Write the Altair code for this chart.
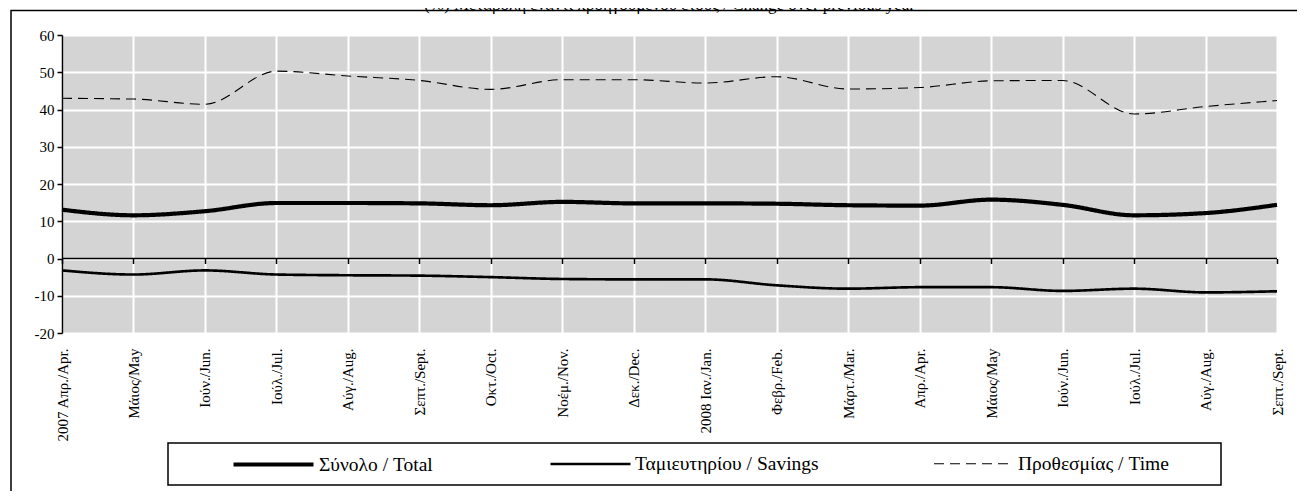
import json
import altair as alt
import pandas as pd

# ---- data ----
months = ["2007 Απρ./Apr.", "Μάιος/May", "Ιούν./Jun.", "Ιούλ./Jul.", "Αύγ./Aug.",
          "Σεπτ./Sept.", "Οκτ./Oct.", "Νοέμ./Nov.", "Δεκ./Dec.", "2008 Ιαν./Jan.",
          "Φεβρ./Feb.", "Μάρτ./Mar.", "Απρ./Apr.", "Μάιος/May", "Ιούν./Jun.",
          "Ιούλ./Jul.", "Αύγ./Aug.", "Σεπτ./Sept."]
total = [13.1, 11.6, 12.7, 14.9, 14.9, 14.8, 14.3, 15.2, 14.8, 14.8,
         14.7, 14.3, 14.2, 15.8, 14.4, 11.6, 12.2, 14.4]
savings = [-3.2, -4.3, -3.2, -4.3, -4.5, -4.6, -5.0, -5.5, -5.6, -5.6,
           -7.2, -8.1, -7.7, -7.7, -8.7, -8.1, -9.1, -8.8]
time_dep = [43.0, 42.8, 41.4, 50.3, 49.0, 47.8, 45.4, 48.0, 48.0, 47.1,
            48.8, 45.5, 45.9, 47.7, 47.8, 38.8, 40.8, 42.4]
series_names = ["Σύνολο / Total", "Ταμιευτηρίου / Savings", "Προθεσμίας / Time"]
title_text = "(%) Μεταβολή έναντι προηγούμενου έτους / Change over previous year"
y_ticks = [-20, -10, 0, 10, 20, 30, 40, 50, 60]

idx = list(range(len(months)))
rows = []
for name, vals in zip(series_names, [total, savings, time_dep]):
    for i, v in zip(idx, vals):
        rows.append({"i": i, "value": v, "series": name})
df = pd.DataFrame(rows)
df_zero = pd.DataFrame({"i": idx, "value": [0] * len(idx)})

FONT = "Liberation Serif"
W, H = 1215, 298

xscale = alt.Scale(domain=[0, len(months) - 1], nice=False, zero=False)
yscale = alt.Scale(domain=[-20, 60], nice=False, zero=False)

yenc = alt.Y("value:Q", scale=yscale, axis=alt.Axis(
    values=y_ticks, title=None, labelFont=FONT, labelFontSize=15, labelColor="black",
    labelExpr="datum.value < 0 ? '-' + abs(datum.value) : datum.label",
    labelPadding=3, labelFlush=False, tickSize=5, tickColor="black", tickWidth=1.5,
    domainColor="black", domainWidth=1.5, grid=True, gridColor="white", gridWidth=2))

month_expr = json.dumps(months, ensure_ascii=False) + "[datum.value]"

x_main = alt.X("i:Q", scale=xscale, axis=alt.Axis(
    orient="bottom", values=idx, title=None, labelExpr=month_expr, labelAngle=270,
    labelAlign="right", labelBaseline="middle", labelFont=FONT, labelFontSize=15,
    labelColor="black", labelPadding=15, labelFlush=False, labelOverlap=False,
    labelBound=False, labelLimit=300, ticks=False, domain=False, grid=True,
    gridColor="white", gridWidth=2))

x_zero = alt.X("i:Q", scale=xscale, axis=alt.Axis(
    orient="bottom", values=idx, title=None, labels=False, domain=False, grid=False,
    ticks=True, tickSize=5, tickColor="black", tickWidth=1.5, offset=-74.5))

leg = dict(title=None, orient="none", legendX=169, legendY=387, direction="horizontal",
           symbolType="stroke", symbolSize=6400, symbolStrokeColor="black",
           labelFont=FONT, labelFontSize=19.5, labelColor="black", labelOffset=3,
           labelLimit=400, columnPadding=112, padding=0)

lines = alt.Chart(df).mark_line(color="black", interpolate="monotone").encode(
    x=x_main,
    y=yenc,
    strokeDash=alt.StrokeDash("series:N", scale=alt.Scale(
        domain=series_names, range=[[1, 0], [1, 0], [10, 6]]), legend=alt.Legend(**leg)),
    strokeWidth=alt.StrokeWidth("series:N", scale=alt.Scale(
        domain=series_names, range=[4.2, 1.1, 1.8]), legend=alt.Legend(**leg)),
)

zero = alt.Chart(df_zero).mark_line(color="black", strokeWidth=1.5).encode(x=x_zero, y=yenc)

one = pd.DataFrame({"k": [0]})
frame = alt.Chart(one).mark_rect(filled=False, color="black", strokeWidth=1.5).encode(
    x=alt.value(-51), x2=alt.value(1300), y=alt.value(-24.5), y2=alt.value(500))
legend_box = alt.Chart(one).mark_rect(filled=False, color="black", strokeWidth=1.5).encode(
    x=alt.value(106), x2=alt.value(1159), y=alt.value(408), y2=alt.value(450))
title = alt.Chart(pd.DataFrame({"t": [title_text]})).mark_text(
    font=FONT, fontSize=17, color="black", align="center", baseline="alphabetic").encode(
    text="t:N", x=alt.value(W / 2), y=alt.value(-25))

chart = alt.layer(frame, legend_box, title, zero, lines).resolve_axis(
    x="independent"
).properties(
    width=W, height=H,
    autosize=alt.AutoSizeParams(type="none"),
    padding={"left": 54, "top": 27, "right": 20, "bottom": 158},
).configure_view(fill="#d4d4d4", stroke="transparent")

chart.save("out.html", embed_options={"renderer": "svg", "actions": False})
